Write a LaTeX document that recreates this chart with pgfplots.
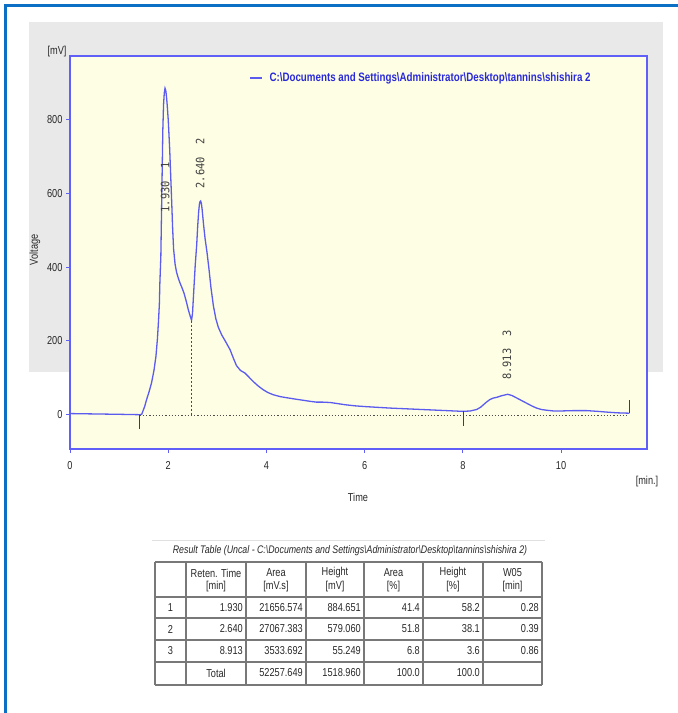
\documentclass[border=0pt]{standalone}
\usepackage{fontspec}
\usepackage{pgfplots}
\pgfplotsset{compat=1.18}
\setmainfont{Liberation Sans}[FakeStretch=0.8]
\newfontfamily\peakfont{DejaVu Sans Mono}[FakeStretch=0.9]

\definecolor{framecol}{RGB}{11,111,198}
\definecolor{graybg}{RGB}{233,233,233}
\definecolor{plotbg}{RGB}{254,254,228}
\definecolor{axiscol}{RGB}{96,96,248}
\definecolor{curvecol}{RGB}{91,91,239}
\definecolor{legendcol}{RGB}{42,42,216}
\definecolor{tabline}{RGB}{120,120,120}
\definecolor{txt}{RGB}{40,40,40}

\newcommand{\lbl}{\fontsize{11.5}{13}\selectfont}

\begin{document}
\begin{tikzpicture}
\path[use as bounding box] (0,0) rectangle (678pt,713pt);

% page decoration (pixel coords, y downwards)
\begin{scope}[x=1pt,y=-1pt,yshift=713pt]
  \fill[graybg] (29,22) rectangle (663,372);
  \draw[framecol,line width=3pt] (5,713) -- (5,5.5) -- (678,5.5);
\end{scope}

\begin{axis}[
    at={(70pt,264pt)}, anchor=south west,
    scale only axis,
    width=577pt, height=393pt,
    xmin=0, xmax=11.75,
    ymin=-93, ymax=972,
    xtick={0,2,...,10},
    ytick={0,200,...,800},
    tick pos=left,
    tick align=outside,
    major tick length=4pt,
    tick style={axiscol, line width=1pt},
    axis line style={axiscol, line width=1.6pt},
    axis background/.style={fill=plotbg},
    ticklabel style={font=\lbl, text=txt},
    xticklabel style={yshift=-5pt},
    /pgf/number format/assume math mode=true,
    legend style={at={(rel axis cs:0.305,0.944)}, anchor=west,
        draw=none, fill=none, font=\fontsize{12.2}{14}\selectfont\bfseries, text=legendcol},
    legend image code/.code={\draw[#1, line width=1.4pt] (0pt,0pt) -- (12pt,0pt); \path (17pt,0pt);},
    clip=false,
]
% chromatogram trace
\addplot[curvecol, line width=1.3pt] coordinates {
 (0,3) (0.5,2) (1.0,1) (1.42,0) (1.46,1) (1.52,22) (1.56,41) (1.61,62)
 (1.66,86) (1.71,120) (1.75,158) (1.78,205) (1.80,249) (1.82,300)
 (1.83,357) (1.85,430) (1.87,600) (1.89,770) (1.905,840) (1.92,872)
 (1.935,884.651) (1.95,879) (1.965,862) (1.98,838) (2.00,800) (2.03,720)
 (2.05,650) (2.07,580) (2.09,505) (2.11,448) (2.14,408) (2.17,386)
 (2.21,368) (2.24,357) (2.28,344) (2.32,330) (2.37,306) (2.41,284)
 (2.45,266) (2.475,256) (2.495,275) (2.52,335) (2.55,405) (2.58,460)
 (2.60,510) (2.62,550) (2.635,570) (2.65,578) (2.66,579.06) (2.675,573)
 (2.69,557) (2.72,515) (2.75,478) (2.79,440) (2.83,395) (2.87,345)
 (2.92,295) (2.97,260) (3.02,237) (3.09,216) (3.16,200) (3.26,176)
 (3.33,152) (3.39,133) (3.47,120) (3.56,113) (3.65,101) (3.73,90)
 (3.83,78) (3.93,68) (4.03,60) (4.14,54) (4.28,49) (4.41,46) (4.60,42)
 (4.75,39) (4.90,36) (5.02,34) (5.15,34) (5.30,33) (5.45,30) (5.6,27)
 (5.8,24) (6.0,22) (6.5,18) (7.0,15) (7.5,12) (8.0,9) (8.15,10)
 (8.28,14) (8.36,20) (8.42,27) (8.48,34) (8.55,41) (8.62,45) (8.69,47)
 (8.78,51) (8.913,55.249) (9.0,52) (9.10,45) (9.2,38) (9.30,31) (9.4,24)
 (9.50,18) (9.6,14) (9.71,12) (9.85,10) (9.98,10) (10.25,11) (10.52,11)
 (10.75,9) (10.93,7) (11.15,5) (11.39,4)
};
\addlegendentry{C:\textbackslash Documents and Settings\textbackslash Administrator\textbackslash Desktop\textbackslash tannins\textbackslash shishira 2}
% integration baseline and peak delimiters
\addplot[forget plot, black!70, line width=1.1pt, dash pattern=on 1.2pt off 2pt] coordinates {(1.42,-2) (11.39,-2)};
\addplot[forget plot, black!75, line width=0.9pt] coordinates {(1.42,0) (1.42,-38)};
\addplot[forget plot, black!75, line width=0.9pt] coordinates {(8.01,9) (8.01,-30)};
\addplot[forget plot, black!75, line width=0.9pt] coordinates {(11.39,4) (11.39,41)};
\addplot[forget plot, black!70, line width=1pt, dash pattern=on 2pt off 2pt] coordinates {(2.48,255) (2.48,-2)};
% peak labels
\node[rotate=90, font=\peakfont\fontsize{11.5}{13}\selectfont, text=black!75] at (axis cs:1.94,616) {1.930\ \ 1};
\node[rotate=90, font=\peakfont\fontsize{11.5}{13}\selectfont, text=black!75] at (axis cs:2.65,681) {2.640\ \ 2};
\node[rotate=90, font=\peakfont\fontsize{11.5}{13}\selectfont, text=black!75] at (axis cs:8.90,162) {8.913\ \ 3};
\end{axis}

\begin{scope}[x=1pt,y=-1pt,yshift=713pt, every node/.style={font=\lbl, text=txt, inner sep=0pt}]
  % axis titles
  \node at (57,52) {[mV]};
  \node[rotate=90] at (35,250) {Voltage};
  \node at (358,497) {Time};
  \node at (647,482) {[min.]};

  % result table
  \draw[black!12, line width=0.8pt] (152,540) -- (545,540);
  \node[font=\fontsize{11}{13}\selectfont\itshape] at (350,551) {Result Table (Uncal - C:\textbackslash Documents and Settings\textbackslash Administrator\textbackslash Desktop\textbackslash tannins\textbackslash shishira 2)};
  \foreach \yy in {562,597,618,640,662,685}
    \draw[tabline, line width=1.6pt] (155,\yy) -- (542,\yy);
  \foreach \xx in {155,186,246,306,364,423,483,542}
    \draw[tabline, line width=1.6pt] (\xx,562) -- (\xx,685);
  % header
  \foreach \cx/\ta/\tb in {216/Reten. Time/[min], 276/Area/[mV.s], 335/Height/[mV],
                          393.5/Area/[\%], 453/Height/[\%], 512.5/W05/[min]} {
    \node at (\cx,573) {\ta};
    \node at (\cx,587) {\tb};
  }
  % rows
  \foreach \yy/\n/\ra/\rb/\rc/\rd/\re/\rf in {
      607.5/1/1.930/21656.574/884.651/41.4/58.2/0.28,
      629/2/2.640/27067.383/579.060/51.8/38.1/0.39,
      651/3/8.913/3533.692/55.249/6.8/3.6/0.86} {
    \node at (170.5,\yy) {\n};
    \node[anchor=east] at (243,\yy) {\ra};
    \node[anchor=east] at (303,\yy) {\rb};
    \node[anchor=east] at (361,\yy) {\rc};
    \node[anchor=east] at (420,\yy) {\rd};
    \node[anchor=east] at (480,\yy) {\re};
    \node[anchor=east] at (539,\yy) {\rf};
  }
  \node at (216,673) {Total};
  \node[anchor=east] at (303,673) {52257.649};
  \node[anchor=east] at (361,673) {1518.960};
  \node[anchor=east] at (420,673) {100.0};
  \node[anchor=east] at (480,673) {100.0};
\end{scope}
\end{tikzpicture}
\end{document}
